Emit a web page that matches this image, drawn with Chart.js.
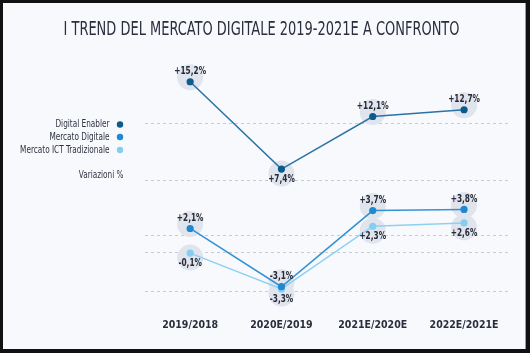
<!DOCTYPE html>
<html><head><meta charset="utf-8">
<script src="https://cdn.jsdelivr.net/npm/chart.js@4/dist/chart.umd.min.js"></script>
<style>
html,body{margin:0;padding:0;background:#111;width:530px;height:353px;overflow:hidden}
#wrap{position:absolute;left:3px;top:3px;width:522px;height:346px;background:#f7f9fd;border-right:1px solid #9a9ca0}
</style></head><body><div id="wrap"><canvas id="c" width="522" height="346"></canvas></div>
<script>
const categories = ['2019/2018', '2020E/2019', '2021E/2020E', '2022E/2021E'];
const digitalEnabler = [15.2, 7.4, 12.1, 12.7];
const mercatoDigitale = [2.1, -3.1, 3.7, 3.8];
const mercatoICT = [-0.1, -3.3, 2.3, 2.6];
const seriesNames = ['Digital Enabler', 'Mercato Digitale', 'Mercato ICT Tradizionale'];
const gridValues = [11.5, 6.4, 1.5, 0, -3.5];
const yAxisLabel = 'Variazioni %';
const titleText = 'I TREND DEL MERCATO DIGITALE 2019-2021E A CONFRONTO';

const FONT = "'Liberation Sans Narrow', 'DejaVu Sans Condensed', sans-serif";
const fmt = v => (v >= 0 ? '+' : '') + v.toFixed(1).replace('.', ',') + '%';

function squeezeText(ctx, text, x, y, sx) {
  ctx.save();
  ctx.translate(x, y);
  ctx.scale(sx, 1);
  ctx.fillText(text, 0, 0);
  ctx.restore();
}

const bubblePlugin = {
  id: 'bubbles',
  beforeDatasetsDraw(chart) {
    const ctx = chart.ctx;
    ctx.save();
    ctx.fillStyle = '#e0e4ed';
    chart.data.datasets.forEach((ds, i) => {
      const meta = chart.getDatasetMeta(i);
      meta.data.forEach((pt, j) => {
        const side = ds.labelSide[j] === 'top' ? -1 : 1;
        ctx.beginPath();
        ctx.arc(pt.x, pt.y + side * 4.5, 13, 0, Math.PI * 2);
        ctx.fill();
      });
    });
    ctx.restore();
  },
  afterDatasetsDraw(chart) {
    const ctx = chart.ctx;
    ctx.save();
    ctx.fillStyle = '#262a36';
    ctx.font = 'bold 10px ' + FONT;
    ctx.textAlign = 'center';
    ctx.textBaseline = 'middle';
    chart.data.datasets.forEach((ds, i) => {
      const meta = chart.getDatasetMeta(i);
      meta.data.forEach((pt, j) => {
        const side = ds.labelSide[j] === 'top' ? -1 : 1;
        squeezeText(ctx, fmt(ds.data[j]), pt.x, pt.y + side * 10.5, 0.82);
      });
    });
    ctx.restore();
  },
  afterDraw(chart) {
    const ctx = chart.ctx;
    const a = chart.chartArea;
    ctx.save();
    // title
    ctx.font = '20px ' + FONT;
    ctx.fillStyle = '#2b2e3d';
    ctx.textAlign = 'center';
    ctx.textBaseline = 'middle';
    const tw = ctx.measureText(titleText).width;
    squeezeText(ctx, titleText, chart.width / 2 - 2.5, 26.5, Math.min(1, 396 / tw));
    // side legend
    ctx.font = '11px ' + FONT;
    ctx.textAlign = 'right';
    const rowY = [121.5, 134, 147];
    chart.data.datasets.forEach((ds, i) => {
      ctx.fillStyle = '#2f3340';
      squeezeText(ctx, ds.label, a.left - 35, rowY[i], 0.74);
      ctx.fillStyle = ds.pointBackgroundColor;
      ctx.beginPath();
      ctx.arc(a.left - 24.5, rowY[i], 3.2, 0, Math.PI * 2);
      ctx.fill();
    });
    ctx.fillStyle = '#2f3340';
    squeezeText(ctx, yAxisLabel, a.left - 21, 172.5, 0.74);
    ctx.restore();
  }
};

new Chart(document.getElementById('c'), {
  type: 'line',
  data: {
    labels: categories,
    datasets: [
      { label: seriesNames[0], data: digitalEnabler, borderColor: '#2a73a3', pointBackgroundColor: '#0c5b8d', borderWidth: 1.5, pointRadius: 3.6, pointBorderWidth: 0, labelSide: ['top', 'bottom', 'top', 'top'] },
      { label: seriesNames[1], data: mercatoDigitale, borderColor: '#3592d2', pointBackgroundColor: '#1e88d0', borderWidth: 1.5, pointRadius: 3.6, pointBorderWidth: 0, labelSide: ['top', 'top', 'top', 'top'] },
      { label: seriesNames[2], data: mercatoICT, borderColor: '#8ed0f2', pointBackgroundColor: '#86cdf3', borderWidth: 1.5, pointRadius: 3.6, pointBorderWidth: 0, labelSide: ['bottom', 'bottom', 'bottom', 'bottom'] }
    ]
  },
  options: {
    responsive: false,
    animation: false,
    layout: { padding: { left: 0, right: 15.3, top: 69.8, bottom: 0 } },
    plugins: {
      legend: { display: false },
      tooltip: { enabled: false },
      title: { display: false }
    },
    scales: {
      x: {
        offset: true,
        grid: { display: false, drawTicks: false },
        border: { display: false },
        ticks: { color: '#2a2e3a', padding: 17, maxRotation: 0, minRotation: 0, font: { family: FONT, size: 10.5, weight: 'bold' } }
      },
      y: {
        min: -4.5, max: 16,
        afterBuildTicks: s => { s.ticks = gridValues.map(v => ({ value: v })); },
        afterFit: s => { s.width = 141.5; },
        ticks: { display: false },
        grid: { color: '#c9cbcf', lineWidth: 1, drawTicks: false },
        border: { display: false, dash: [3, 3] }
      }
    }
  },
  plugins: [bubblePlugin]
});
</script></body></html>
